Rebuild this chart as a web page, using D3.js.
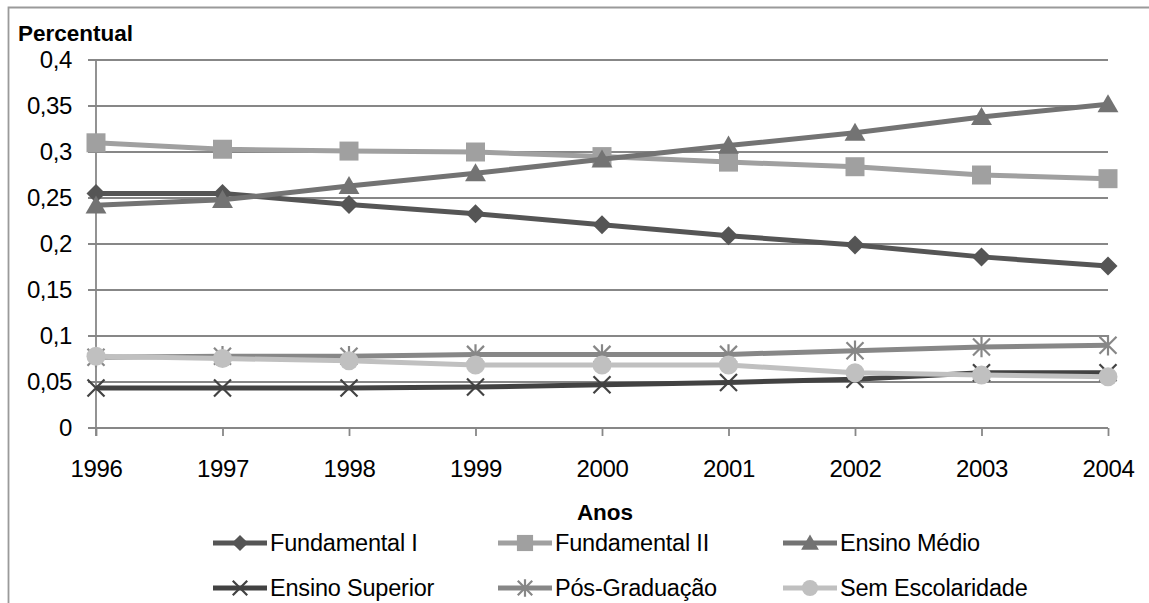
<!DOCTYPE html>
<html>
<head>
<meta charset="utf-8">
<script src="https://cdn.jsdelivr.net/npm/d3@7"></script>
<style>
  html, body { margin: 0; padding: 0; background: #fff; }
  svg { display: block; }
  text { font-family: "Liberation Sans", Arial, sans-serif; fill: #000; }
</style>
</head>
<body>
<svg id="chart" width="1149" height="603"></svg>
<script>
// Anos (eixo X)
const years = [1996, 1997, 1998, 1999, 2000, 2001, 2002, 2003, 2004];

// Percentual por nível de escolaridade
const fundamentalI    = [0.255, 0.255, 0.243, 0.233, 0.221, 0.209, 0.199, 0.186, 0.176];
const fundamentalII   = [0.310, 0.303, 0.301, 0.300, 0.295, 0.289, 0.284, 0.275, 0.271];
const ensinoMedio     = [0.242, 0.248, 0.263, 0.277, 0.292, 0.307, 0.321, 0.338, 0.352];
const ensinoSuperior  = [0.0435, 0.0435, 0.0435, 0.0445, 0.047, 0.0495, 0.053, 0.060, 0.060];
const posGraduacao    = [0.077, 0.078, 0.078, 0.080, 0.080, 0.080, 0.084, 0.088, 0.090];
const semEscolaridade = [0.078, 0.0755, 0.073, 0.0685, 0.0685, 0.0685, 0.060, 0.0575, 0.0558];

// Nomes das séries e rótulos dos eixos
const seriesNames = ["Fundamental I", "Fundamental II", "Ensino Médio",
                     "Ensino Superior", "Pós-Graduação", "Sem Escolaridade"];
const yTicks = [0, 0.05, 0.1, 0.15, 0.2, 0.25, 0.3, 0.35, 0.4];
const yTickLabels = ["0", "0,05", "0,1", "0,15", "0,2", "0,25", "0,3", "0,35", "0,4"];
const yTitle = "Percentual";
const xTitle = "Anos";

const seriesValues = [fundamentalI, fundamentalII, ensinoMedio,
                      ensinoSuperior, posGraduacao, semEscolaridade];

// Aparência de cada série
const styles = [
  { color: "#555555", marker: "diamond" },
  { color: "#a0a0a0", marker: "square" },
  { color: "#737373", marker: "triangle" },
  { color: "#424242", marker: "times" },
  { color: "#878787", marker: "asterisk" },
  { color: "#c0c0c0", marker: "circle" }
];

const svg = d3.select("#chart");
const W = 1149, H = 603;
const plotLeft = 96, plotRight = 1108, plotTop = 60, plotBottom = 428;
const gridColor = "#878787";
const tickFont = 24;

const x = d3.scaleLinear().domain([years[0], years[years.length - 1]]).range([plotLeft, plotRight]);
const y = d3.scaleLinear().domain([0, 0.4]).range([plotBottom, plotTop]);

// Moldura externa (apenas borda superior e esquerda visíveis)
svg.append("path")
  .attr("d", `M8.5,${H} L8.5,7.5 L${W},7.5`)
  .attr("fill", "none").attr("stroke", "#9a9a9a").attr("stroke-width", 1.8);

// Linhas de grade horizontais
svg.append("g").selectAll("line").data(yTicks).join("line")
  .attr("x1", plotLeft - 8).attr("x2", plotRight)
  .attr("y1", d => y(d)).attr("y2", d => y(d))
  .attr("stroke", gridColor).attr("stroke-width", 1.8);

// Eixo Y: linha e rótulos
svg.append("line")
  .attr("x1", plotLeft).attr("x2", plotLeft).attr("y1", plotTop).attr("y2", plotBottom + 8)
  .attr("stroke", gridColor).attr("stroke-width", 1.8);

const yAxis = d3.axisLeft(y).tickValues(yTicks)
  .tickFormat((d, i) => yTickLabels[i]).tickSize(0).tickPadding(24);
const gy = svg.append("g").attr("transform", `translate(${plotLeft},0)`).call(yAxis);
gy.select(".domain").remove();
gy.selectAll("text").attr("font-size", tickFont).attr("fill", "#000")
  .attr("letter-spacing", "-0.4px")
  .style("font-family", '"Liberation Sans", Arial, sans-serif');

// Eixo X: marcas e rótulos
const xAxis = d3.axisBottom(x).tickValues(years).tickFormat(d => String(d))
  .tickSize(8).tickPadding(24);
const gx = svg.append("g").attr("transform", `translate(0,${plotBottom})`).call(xAxis);
gx.select(".domain").remove();
gx.selectAll("line").attr("stroke", gridColor).attr("stroke-width", 1.8);
gx.selectAll("text").attr("font-size", tickFont).attr("fill", "#000")
  .attr("letter-spacing", "-0.4px")
  .style("font-family", '"Liberation Sans", Arial, sans-serif');

// Títulos dos eixos
svg.append("text").attr("x", 18).attr("y", 41)
  .attr("font-size", 22.5).attr("font-weight", "bold").text(yTitle);
svg.append("text").attr("x", (plotLeft + plotRight) / 2 + 3).attr("y", 520)
  .attr("text-anchor", "middle")
  .attr("font-size", 22.5).attr("font-weight", "bold").text(xTitle);

// Formas dos marcadores
function markerPath(type, r) {
  switch (type) {
    case "diamond":  return `M0,${-r}L${r},0L0,${r}L${-r},0Z`;
    case "square":   return `M${-r},${-r}H${r}V${r}H${-r}Z`;
    case "triangle": return `M0,${-r * 1.05}L${r * 1.1},${r * 0.85}L${-r * 1.1},${r * 0.85}Z`;
    case "circle":   return d3.arc()({ innerRadius: 0, outerRadius: r, startAngle: 0, endAngle: 2 * Math.PI });
    case "times":    return `M${-r},${-r}L${r},${r}M${-r},${r}L${r},${-r}`;
    case "asterisk": return `M${-r},${-r}L${r},${r}M${-r},${r}L${r},${-r}M0,${-r * 1.2}V${r * 1.2}`;
  }
}
const markerSize = { diamond: 9.5, square: 9.5, triangle: 9.5, circle: 9.5, times: 8.5, asterisk: 8.5 };
const isStroked = t => t === "times" || t === "asterisk";

function drawMarker(g, type, color, r) {
  const p = g.append("path").attr("d", markerPath(type, r));
  if (isStroked(type)) p.attr("fill", "none").attr("stroke", color).attr("stroke-width", 2.2);
  else p.attr("fill", color).attr("stroke", "none");
  return p;
}

// Séries
const line = d3.line().x((d, i) => x(years[i])).y(d => y(d));
seriesValues.forEach((vals, si) => {
  const st = styles[si];
  const g = svg.append("g");
  g.append("path").attr("d", line(vals))
    .attr("fill", "none").attr("stroke", st.color).attr("stroke-width", 5)
    .attr("stroke-linejoin", "round");
  vals.forEach((v, i) => {
    const mg = g.append("g").attr("transform", `translate(${x(years[i])},${y(v)})`);
    drawMarker(mg, st.marker, st.color, markerSize[st.marker]);
  });
});

// Legenda
const legendCols = [213, 498, 783];
const legendRows = [543, 588];
seriesNames.forEach((name, i) => {
  const st = styles[i];
  const lx = legendCols[i % 3], ly = legendRows[Math.floor(i / 3)];
  const g = svg.append("g").attr("transform", `translate(${lx},${ly})`);
  g.append("line").attr("x1", 0).attr("x2", 54).attr("y1", 0).attr("y2", 0)
    .attr("stroke", st.color).attr("stroke-width", 5);
  const mg = g.append("g").attr("transform", "translate(27,0)");
  drawMarker(mg, st.marker, st.color, markerSize[st.marker] * 0.85);
  g.append("text").attr("x", 57).attr("y", 0).attr("dy", "0.36em")
    .attr("font-size", 23.5).attr("letter-spacing", "-0.2px").text(name);
});
</script>
</body>
</html>
